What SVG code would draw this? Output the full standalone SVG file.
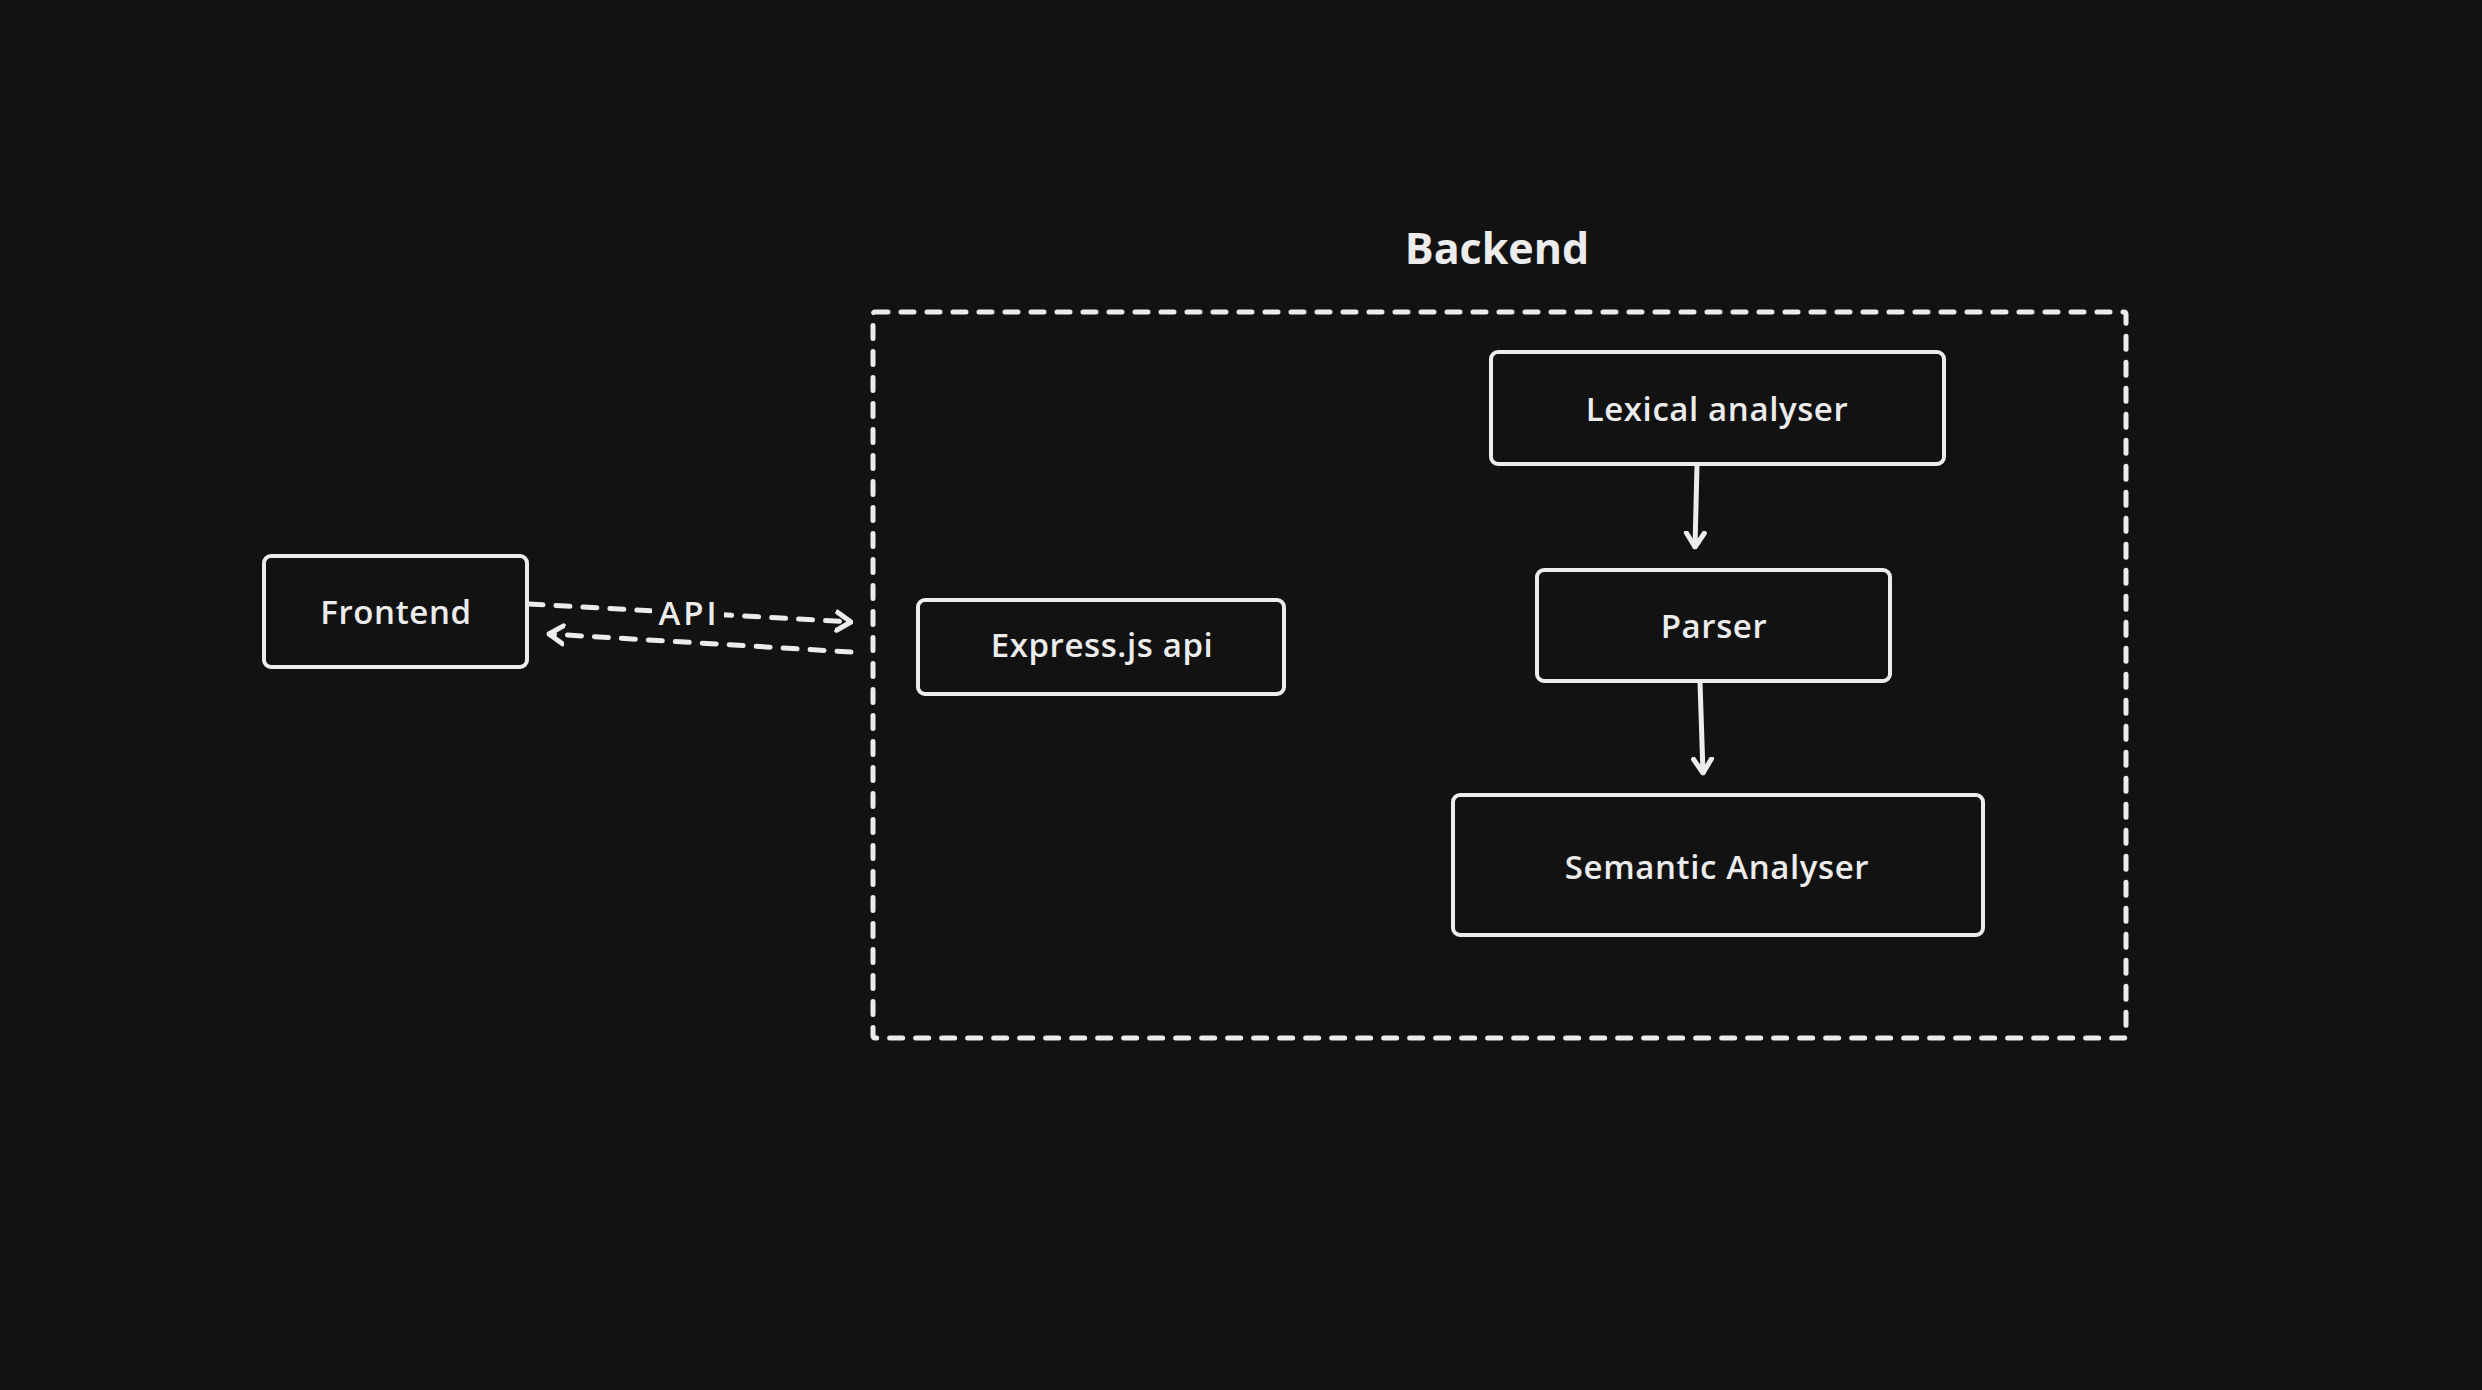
<svg xmlns="http://www.w3.org/2000/svg" width="2482" height="1390" viewBox="0 0 2482 1390">
  <defs>
    <style>
      .bg { fill: #121212; }
      .node rect { fill: #121212; stroke: #ececec; stroke-width: 4; }
      .label { font-family: "Open Sans", "Liberation Sans", sans-serif; font-size: 33px; font-weight: 600; fill: #ececec; text-anchor: middle; dominant-baseline: central; letter-spacing: 0.6px; }
      .title { font-family: "Open Sans", "Liberation Sans", sans-serif; font-size: 43px; font-weight: 700; fill: #ececec; text-anchor: middle; dominant-baseline: central; }
      .group { fill: none; stroke: #ececec; stroke-width: 5; stroke-dasharray: 13 13; stroke-linecap: round; }
      .edge { fill: none; stroke: #ececec; stroke-width: 5; stroke-linecap: round; }
      .dashed { stroke-dasharray: 14 13; }
    </style>
    <marker id="arrow" viewBox="-16 -12 18 24" refX="0" refY="0" markerWidth="18" markerHeight="24" markerUnits="userSpaceOnUse" orient="auto">
      <path d="M -14 -9 L 0 0 L -14 9" fill="none" stroke="#ececec" stroke-width="5" stroke-linecap="round" stroke-linejoin="round"/>
    </marker>
  </defs>
  <rect class="bg" x="0" y="0" width="2482" height="1390"/>

  <g id="backend-group">
    <rect class="group" x="873" y="312" width="1253" height="726" rx="2"/>
    <text class="title" x="1497" y="247">Backend</text>
  </g>

  <g id="connectors">
    <path class="edge dashed" d="M 529 604 L 851 622" marker-end="url(#arrow)"/>
    <path class="edge dashed" d="M 851 652 L 549 634" marker-end="url(#arrow)"/>
    <rect x="652" y="594" width="72" height="38" fill="#121212"/>
    <text class="label" x="689" y="612" style="letter-spacing:3px">API</text>
    <path class="edge" d="M 1697 465 L 1695 547" marker-end="url(#arrow)"/>
    <path class="edge" d="M 1700 682 L 1703 773" marker-end="url(#arrow)"/>
  </g>

  <g id="frontend" class="node">
    <rect x="264" y="556" width="263" height="111" rx="7"/>
    <text class="label" x="396" y="611">Frontend</text>
  </g>

  <g id="express" class="node">
    <rect x="918" y="600" width="366" height="94" rx="7"/>
    <text class="label" x="1102" y="644">Express.js api</text>
  </g>

  <g id="lexical" class="node">
    <rect x="1491" y="352" width="453" height="112" rx="7"/>
    <text class="label" x="1717" y="408">Lexical analyser</text>
  </g>

  <g id="parser" class="node">
    <rect x="1537" y="570" width="353" height="111" rx="7"/>
    <text class="label" x="1714" y="625">Parser</text>
  </g>

  <g id="semantic" class="node">
    <rect x="1453" y="795" width="530" height="140" rx="7"/>
    <text class="label" x="1717" y="866">Semantic Analyser</text>
  </g>
</svg>
